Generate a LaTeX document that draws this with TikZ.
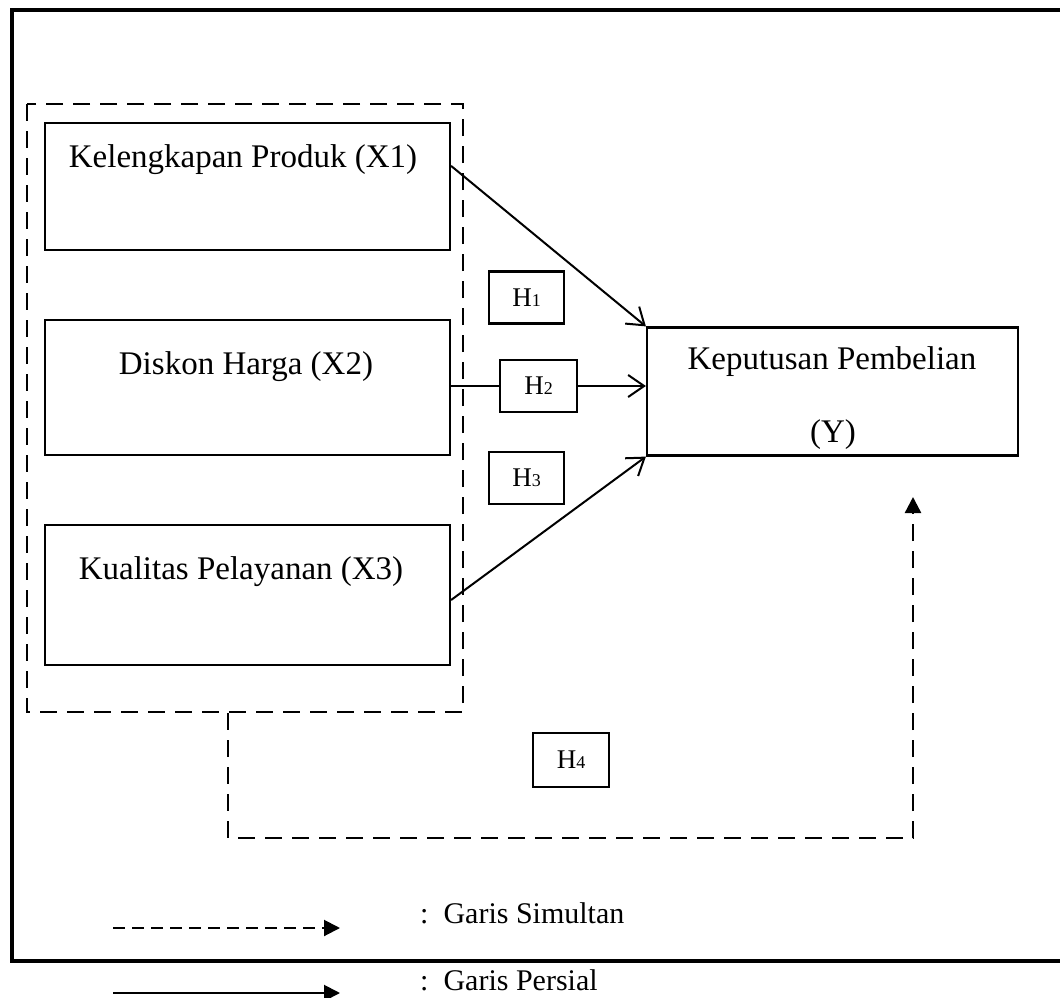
\documentclass[tikz,border=0pt]{standalone}
\usepackage{fontspec}
\setmainfont{Liberation Serif}
\usetikzlibrary{arrows.meta}
\tikzset{
  varbox/.style={draw, line width=2.2pt, inner sep=0pt},
  hbox/.style={draw, line width=2.2pt, minimum width=75pt, minimum height=52pt, inner sep=0pt, font=\fontsize{27}{30}\selectfont},
  bigtext/.style={inner sep=0pt, font=\fontsize{33}{38}\selectfont},
  persial/.style={line width=2pt, -{Straight Barb[length=16pt,width=22pt,line width=2pt]}},
  simultan/.style={line width=2.4pt, dash pattern=on 17pt off 10pt},
  simtip/.style={-{Triangle[length=16pt,width=16pt]}}
}
\newcommand{\hl}[1]{H{\fontsize{18}{20}\selectfont #1}}
\begin{document}
\begin{tikzpicture}[x=1pt,y=-1pt]
\useasboundingbox (0,0) rectangle (1060,998);
% outer frame
\draw[line width=3.2pt] (1064,10) -- (12,10) -- (12,961) -- (1064,961);
% dashed group
\draw[simultan] (27,104) rectangle (463,712);
% variable boxes
\node[varbox, minimum width=405pt, minimum height=127pt] (x1) at (247.5,186.5) {};
\node[varbox, minimum width=405pt, minimum height=135pt] (x2) at (247.5,387.5) {};
\node[varbox, minimum width=405pt, minimum height=140pt] (x3) at (247.5,595) {};
\node[varbox, minimum width=371pt, minimum height=128pt] (y) at (832.5,391.5) {};
\node[bigtext] (t1) at (243,160) {Kelengkapan Produk (X1)};
\node[bigtext] (t2) at (246,367) {Diskon Harga (X2)};
\node[bigtext] (t3) at (241,572) {Kualitas Pelayanan (X3)};
\node[bigtext] (ty1) at (832,362) {Keputusan Pembelian};
\node[bigtext] (ty2) at (833,435) {(Y)};
% hypothesis boxes
\node[hbox] (h1) at (526.5,297.5) {\hl{1}};
\node[hbox, minimum width=77pt] (h2) at (538.5,386) {\hl{2}};
\node[hbox] (h3) at (526.5,478) {\hl{3}};
\node[hbox, minimum width=76pt, minimum height=54pt] (h4) at (571,760) {\hl{4}};
% persial arrows
\draw[persial] ([yshift=-44pt]x1.north east) -- (y.north west);
\draw[line width=2pt] (x2.east |- h2.west) -- (h2.west);
\draw[persial] (h2.east) -- (y.west |- h2.east);
\draw[persial] ([yshift=-5pt]x3.east) -- (y.south west);
% simultan path
\coordinate (s0) at (228,713);
\coordinate (s1) at (228,838);
\coordinate (s2) at (913,838);
\coordinate (s3) at (913,497);
\draw[simultan] (s0) -- (s1) -- (s2) -- ([yshift=-14pt]s3);
\draw[line width=2.4pt, simtip] ([yshift=-14pt]s3) -- (s3);
% legend
\coordinate (l1a) at (113,928);
\coordinate (l1b) at (340,928);
\coordinate (l2a) at (113,993);
\coordinate (l2b) at (340,993);
\draw[line width=2pt, dash pattern=on 12pt off 7pt] (l1a) -- ([xshift=-14pt]l1b);
\draw[line width=2pt, simtip] ([xshift=-16pt]l1b) -- (l1b);
\draw[line width=2pt, simtip] (l2a) -- (l2b);
\node[bigtext, font=\fontsize{30}{34}\selectfont, anchor=west] (lt1) at (420,913) {:\ \ Garis Simultan};
\node[bigtext, font=\fontsize{30}{34}\selectfont, anchor=west] (lt2) at (420,980) {:\ \ Garis Persial};
\end{tikzpicture}
\end{document}
